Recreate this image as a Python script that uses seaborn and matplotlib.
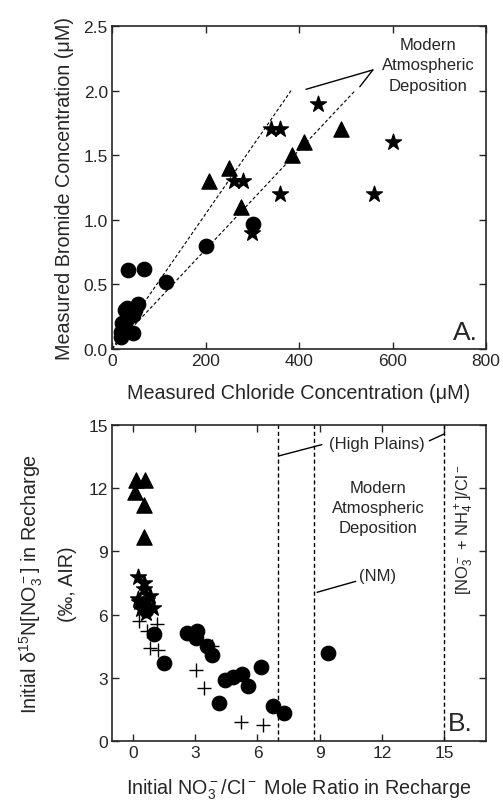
import numpy as np
import pandas as pd
import seaborn as sns
from matplotlib import pyplot as plt

# Panel A: measured Cl vs Br (uM)
circ_cl = [20, 22, 25, 28, 33, 40, 45, 50, 55, 45, 30, 20, 34, 68, 115, 202, 302]
circ_br = [0.09, 0.20, 0.16, 0.30, 0.32, 0.28, 0.26, 0.30, 0.35, 0.12, 0.22, 0.13, 0.61, 0.62, 0.52, 0.80, 0.97]
tri_cl = [207, 250, 275, 385, 410, 490]
tri_br = [1.30, 1.40, 1.10, 1.50, 1.60, 1.70]
star_cl = [440, 340, 360, 260, 280, 360, 300, 560, 600]
star_br = [1.90, 1.70, 1.70, 1.30, 1.30, 1.20, 0.90, 1.20, 1.60]

# atmospheric deposition Br/Cl bounds
dep_cl_hi = [0, 383]
dep_br_hi = [0, 2.0]
dep_cl_lo = [0, 520]
dep_br_lo = [0, 2.0]

# Panel B: initial NO3/Cl ratio vs d15N
b_tri_x = [0.16, 0.60, 0.13, 0.56, 0.56]
b_tri_y = [12.4, 12.4, 11.8, 11.2, 9.7]
b_star_x = [0.24, 0.56, 0.56, 0.84, 0.24, 0.48, 0.97, 0.40, 0.65, 0.30, 0.70]
b_star_y = [7.8, 7.5, 7.2, 6.9, 6.75, 6.5, 6.3, 6.25, 6.1, 6.6, 6.7]
b_plus_x = [0.32, 0.68, 1.16, 0.84, 1.20, 3.8, 3.06, 3.42, 5.2, 6.26]
b_plus_y = [5.7, 5.2, 5.55, 4.4, 4.3, 4.5, 3.37, 2.5, 0.89, 0.78]
b_circ_x = [0.65, 1.02, 1.5, 2.63, 3.1, 3.03, 3.58, 3.79, 4.16, 4.44, 4.8, 5.24, 5.56, 6.18, 6.74, 7.29, 9.4]
b_circ_y = [6.2, 5.08, 3.68, 5.12, 5.2, 4.9, 4.5, 4.1, 1.79, 2.9, 3.05, 3.18, 2.6, 3.5, 1.65, 1.33, 4.2]

ratio_lines = [7.0, 8.7, 15.0]

sns.set_theme(style="ticks")
plt.rcParams["font.family"] = ["Liberation Sans", "DejaVu Sans"]
plt.rcParams["mathtext.fontset"] = "custom"
plt.rcParams["mathtext.rm"] = "Liberation Sans"
plt.rcParams["mathtext.it"] = "Liberation Sans"
plt.rcParams["xtick.direction"] = "in"
plt.rcParams["ytick.direction"] = "in"
plt.rcParams["xtick.top"] = True
plt.rcParams["ytick.right"] = True
plt.rcParams["axes.linewidth"] = 1.2
plt.rcParams["xtick.labelsize"] = 12.5
plt.rcParams["ytick.labelsize"] = 12.5

fig = plt.figure(figsize=(5.03, 8.04), dpi=100)
ax1 = fig.add_axes([0.2227, 0.5647, 0.7435, 0.4017])
ax2 = fig.add_axes([0.2227, 0.0771, 0.7435, 0.3930])

lab_fs = 14.2
ann_fs = 12
ms = 110
sns.scatterplot(x=circ_cl, y=circ_br, marker="o", s=ms, color="black", edgecolor="black", ax=ax1)
sns.scatterplot(x=tri_cl, y=tri_br, marker="^", s=ms * 1.1, color="black", edgecolor="black", ax=ax1)
sns.scatterplot(x=star_cl, y=star_br, marker="*", s=ms * 1.3, color="black", edgecolor="black", ax=ax1)
sns.lineplot(x=dep_cl_hi, y=dep_br_hi, color="black", lw=0.8, ls=(0, (3, 2)), ax=ax1)
sns.lineplot(x=dep_cl_lo, y=dep_br_lo, color="black", lw=0.8, ls=(0, (3, 2)), ax=ax1)
ax1.plot([415, 558], [2.01, 2.16], color="black", lw=1.0)
ax1.plot([558, 530], [2.16, 2.03], color="black", lw=1.0)
ax1.text(676, 2.2, "Modern\nAtmospheric\nDeposition", ha="center", va="center", fontsize=ann_fs, linespacing=1.45)
ax1.text(755, 0.13, "A.", ha="center", va="center", fontsize=19)
ax1.set_xlim(0, 800)
ax1.set_ylim(0, 2.5)
ax1.set_xticks([0, 200, 400, 600, 800])
ax1.set_yticks([0, 0.5, 1.0, 1.5, 2.0, 2.5])
ax1.yaxis.set_major_formatter(plt.FormatStrFormatter("%.1f"))
ax1.set_xlabel("Measured Chloride Concentration (\u03bcM)", fontsize=lab_fs, labelpad=11)
ax1.set_ylabel("Measured Bromide Concentration (\u03bcM)", fontsize=lab_fs, labelpad=7)

sns.scatterplot(x=b_circ_x, y=b_circ_y, marker="o", s=ms, color="black", edgecolor="black", ax=ax2)
sns.scatterplot(x=b_plus_x, y=b_plus_y, marker="+", s=ms, color="black", linewidth=1.0, ax=ax2)
sns.scatterplot(x=b_star_x, y=b_star_y, marker="*", s=ms * 1.3, color="black", edgecolor="black", ax=ax2)
sns.scatterplot(x=b_tri_x, y=b_tri_y, marker="^", s=ms * 1.1, color="black", edgecolor="black", ax=ax2)
for xv in ratio_lines:
    ax2.axvline(xv, color="black", lw=1.0, ls=(0, (3, 2)))
ax2.plot([9.1, 7.05], [14.07, 13.54], color="black", lw=1.0)
ax2.plot([14.27, 14.97], [14.25, 14.57], color="black", lw=1.0)
ax2.text(11.75, 14.1, "(High Plains)", ha="center", va="center", fontsize=ann_fs)
ax2.text(11.8, 11.09, "Modern\nAtmospheric\nDeposition", ha="center", va="center", fontsize=ann_fs, linespacing=1.45)
ax2.plot([10.73, 8.87], [7.58, 7.06], color="black", lw=1.0)
ax2.text(11.78, 7.85, "(NM)", ha="center", va="center", fontsize=ann_fs)
ax2.text(15.97, 10.06, r"[NO$_3^-$ + NH$_4^+$]/Cl$^-$", rotation=90, ha="center", va="center", fontsize=ann_fs)
ax2.text(15.76, 0.85, "B.", ha="center", va="center", fontsize=19)
ax2.set_xlim(-1, 17)
ax2.set_ylim(0, 15)
ax2.set_xticks([0, 3, 6, 9, 12, 15])
ax2.set_yticks([0, 3, 6, 9, 12, 15])
ax2.set_xlabel(r"Initial NO$_3^-$/Cl$^-$ Mole Ratio in Recharge", fontsize=lab_fs, labelpad=12)
ax2.set_ylabel("Initial \u03b4$^{15}$N[NO$_3^-$] in Recharge\n(\u2030, AIR)", fontsize=lab_fs,
               labelpad=8, linespacing=1.9)

for ax in (ax1, ax2):
    ax.tick_params(length=5, width=1.0, pad=3)

fig.savefig("out.png", dpi=100)
